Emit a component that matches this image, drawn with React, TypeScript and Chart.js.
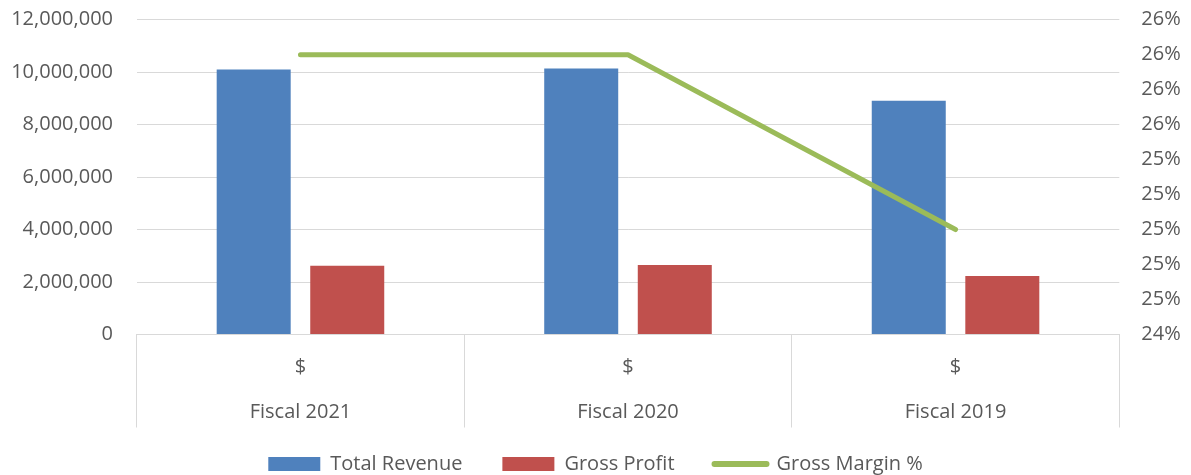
import React, { useEffect, useRef } from "react";
import { Chart, registerables } from "chart.js";

Chart.register(...registerables);

// ---- data ----
const categories: string[][] = [
  ["$", "Fiscal 2021"],
  ["$", "Fiscal 2020"],
  ["$", "Fiscal 2019"],
];
const totalRevenue: number[] = [10100000, 10140000, 8910000];
const grossProfit: number[] = [2620000, 2650000, 2230000];
const grossMargin: number[] = [0.26, 0.26, 0.25];

const leftMin = 0;
const leftMax = 12000000;
const leftStep = 2000000;
const rightMin = 0.244;
const rightMax = 0.262;
const rightStep = 0.002;

const BLUE = "#4F81BD";
const RED = "#C0504D";
const GREEN = "#9BBB59";
const TEXT = "#595959";
const GRID = "#D9D9D9";

export default function App() {
  const ref = useRef<HTMLCanvasElement | null>(null);

  useEffect(() => {
    if (!ref.current) return;
    Chart.defaults.font.family = "'Open Sans', sans-serif";
    const chart = new Chart(ref.current, {
      type: "bar",
      data: {
        labels: categories as any,
        datasets: [
          {
            type: "bar",
            label: "Total Revenue",
            data: totalRevenue,
            backgroundColor: BLUE,
            yAxisID: "y",
            order: 1,
            categoryPercentage: 0.5713,
            barPercentage: 0.791,
          },
          {
            type: "bar",
            label: "Gross Profit",
            data: grossProfit,
            backgroundColor: RED,
            yAxisID: "y",
            order: 1,
            categoryPercentage: 0.5713,
            barPercentage: 0.791,
          },
          {
            type: "line",
            label: "Gross Margin %",
            data: grossMargin,
            borderColor: GREEN,
            backgroundColor: GREEN,
            borderWidth: 5,
            borderCapStyle: "round",
            borderJoinStyle: "round",
            pointRadius: 0,
            pointHoverRadius: 0,
            tension: 0,
            yAxisID: "y1",
            order: 0,
          } as any,
        ],
      },
      options: {
        responsive: false,
        animation: false,
        layout: { padding: { top: 35.5, left: 0, right: 0, bottom: 0 } },
        plugins: {
          tooltip: { enabled: false },
          legend: {
            position: "bottom",
            labels: {
              usePointStyle: true,
              pointStyleWidth: 52,
              boxHeight: 14,
              padding: 40,
              color: TEXT,
              font: { size: 20 },
              generateLabels: (c: any) => {
                const items = (Chart.defaults.plugins.legend.labels as any).generateLabels(c);
                return items
                  .map((it: any) => {
                    const ds: any = c.data.datasets[it.datasetIndex];
                    if (ds.type === "line") {
                      return {
                        ...it,
                        pointStyle: "line",
                        strokeStyle: GREEN,
                        lineWidth: 6,
                        lineCap: "round",
                      };
                    }
                    return {
                      ...it,
                      pointStyle: "rect",
                      fillStyle: ds.backgroundColor,
                      lineWidth: 0,
                    };
                  })
                  .sort((a: any, b: any) => a.datasetIndex - b.datasetIndex);
              },
            },
          },
        },
        scales: {
          x: {
            offset: true,
            grid: {
              display: true,
              offset: true,
              drawOnChartArea: false,
              drawTicks: true,
              tickLength: 93,
              color: GRID,
              lineWidth: 1,
            },
            border: { display: true, color: GRID },
            ticks: {
              color: TEXT,
              font: { size: 20, lineHeight: 2.25 },
              padding: -55,
              mirror: true,
              maxRotation: 0,
              minRotation: 0,
              autoSkip: false,
            },
            afterFit: (s: any) => {
              s.height = 79.5;
            },
          },
          y: {
            position: "left",
            min: leftMin,
            max: leftMax,
            ticks: {
              stepSize: leftStep,
              color: TEXT,
              font: { size: 20 },
              padding: 23.7,
              callback: (v: any) => Number(v).toLocaleString("en-US"),
            },
            grid: { color: GRID, drawTicks: false, lineWidth: 1 },
            border: { display: false },
            afterFit: (s: any) => {
              s.width = 136.7;
            },
          },
          y1: {
            position: "right",
            min: rightMin,
            max: rightMax,
            ticks: {
              stepSize: rightStep,
              color: TEXT,
              font: { size: 20 },
              padding: 22,
              callback: (v: any) => Math.round(Number(v) * 100) + "%",
            },
            grid: { display: false, drawTicks: false },
            border: { display: false },
            afterFit: (s: any) => {
              s.width = 71.7;
            },
          },
        },
      } as any,
    });
    return () => chart.destroy();
  }, []);

  return (
    <div
      style={{
        position: "absolute",
        left: 0,
        top: 0,
        width: 1191,
        height: 475,
        overflow: "hidden",
        background: "#ffffff",
      }}
    >
      <canvas
        ref={ref}
        width={1191}
        height={500}
        style={{ display: "block", position: "absolute", left: 0, top: -16 }}
      />
    </div>
  );
}
